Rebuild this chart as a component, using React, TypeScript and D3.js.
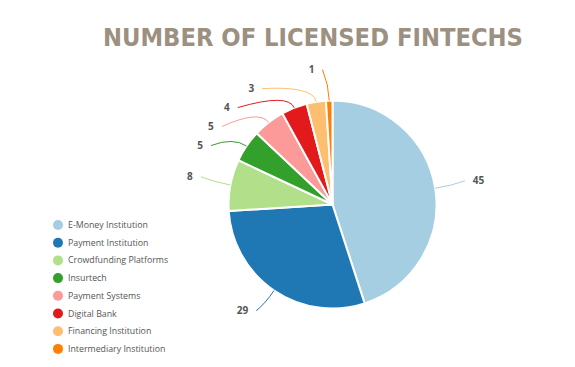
import React from "react";
import { arc, pie, scaleOrdinal } from "d3";

const categories = [
  "E-Money Institution",
  "Payment Institution",
  "Crowdfunding Platforms",
  "Insurtech",
  "Payment Systems",
  "Digital Bank",
  "Financing Institution",
  "Intermediary Institution",
];
const values = [45, 29, 8, 5, 5, 4, 3, 1];
const colors = ["#a6cee3", "#1f78b4", "#b2df8a", "#33a02c", "#fb9a99", "#e31a1c", "#fdbf6f", "#ff7f00"];

const W = 575;
const H = 367;
const cx = 332.5;
const cy = 204.5;
const r = 104;
const rl = 132;

const App = () => {
  const color = scaleOrdinal<string, string>().domain(categories).range(colors);
  const slices = pie<number>().sort(null)(values);
  const arcGen = arc<any>().innerRadius(0).outerRadius(r);

  // label positions from mid-angle, then spread vertically so they don't collide
  const labels = slices.map((s, i) => {
    const a = (s.startAngle + s.endAngle) / 2;
    return {
      i,
      a,
      right: Math.sin(a) >= 0,
      y: cy - rl * Math.cos(a),
    };
  });
  const left = labels.filter((d) => !d.right).sort((p, q) => p.y - q.y);
  for (let k = 1; k < left.length; k++) {
    left[k].y = Math.max(left[k].y, left[k - 1].y + 19);
  }
  const placed = labels.map((d) => {
    const dy = Math.min(Math.abs(d.y - cy), rl);
    const dx = Math.sqrt(rl * rl - dy * dy);
    const side = d.right ? 1 : -1;
    const lx = cx + side * Math.max(dx + 6, 14);
    const ex = cx + Math.sin(d.a) * r;
    const ey = cy - Math.cos(d.a) * r;
    const qx = cx + Math.sin(d.a) * (r + 16);
    const qy = cy - Math.cos(d.a) * (r + 16);
    return { ...d, lx, ex, ey, qx, qy, side };
  });

  return (
    <svg width={W} height={H} style={{ position: "absolute", left: 0, top: 0 }}>
      <rect width={W} height={H} fill="#fff" />
      <text
        x={313}
        y={46}
        textAnchor="middle"
        fontFamily="'DejaVu Sans', sans-serif"
        fontWeight="bold"
        fontSize={24}
        textLength={420}
        lengthAdjust="spacingAndGlyphs"
        fill="#9c9080"
      >
        NUMBER OF LICENSED FINTECHS
      </text>
      <g>
        {slices.map((s, i) => (
          <path
            key={i}
            d={arcGen(s) as string}
            transform={`translate(${cx},${cy})`}
            fill={color(categories[i])}
            stroke="#fff"
            strokeWidth={2}
          />
        ))}
      </g>
      <g>
        {placed.map((d) => {
          const sx = d.lx - d.side * 4;
          const sy = d.y - 3;
          return (
            <g key={d.i}>
              <path
                d={`M${sx},${sy} Q${d.qx},${d.qy} ${d.ex},${d.ey}`}
                fill="none"
                stroke={color(categories[d.i])}
                strokeWidth={1}
              />
              <text
                x={d.lx + d.side * 4}
                y={d.y}
                textAnchor={d.right ? "start" : "end"}
                fontFamily="'Open Sans', sans-serif"
                fontWeight="bold"
                fontSize={10}
                fill="#555"
              >
                {values[d.i]}
              </text>
            </g>
          );
        })}
      </g>
      <g>
        {categories.map((c, i) => (
          <g key={c} transform={`translate(58,${225 + i * 17.7})`}>
            <circle r={5} fill={color(c)} />
            <text x={10} y={3} fontFamily="'Open Sans', sans-serif" fontSize={8.8} fill="#555">
              {c}
            </text>
          </g>
        ))}
      </g>
    </svg>
  );
};

export default App;
